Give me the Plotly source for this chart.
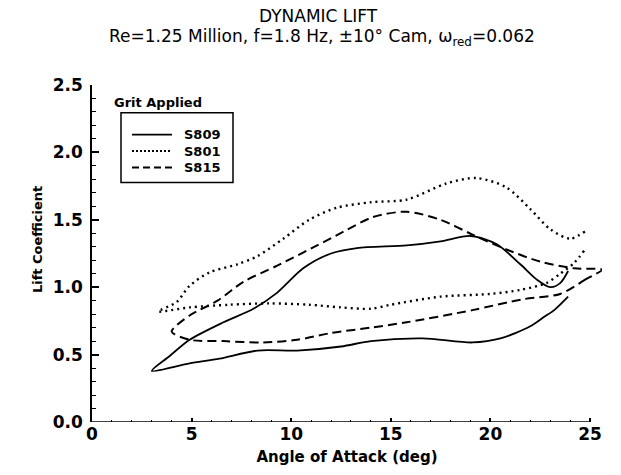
import plotly.graph_objects as go

# ---- data ----
# S809 (solid): lower branch then upper branch, both start at the leftmost point
s809_lower_x = [3.0, 4.9, 6.4, 8.3, 10.3, 12.5, 14.0, 16.6, 19.1, 20.5, 22.0, 22.7, 23.2, 23.9]
s809_lower_y = [0.38, 0.435, 0.47, 0.53, 0.53, 0.56, 0.60, 0.62, 0.59, 0.62, 0.71, 0.78, 0.83, 0.93]
s809_upper_x = [3.0, 3.9, 4.9, 6.6, 8.1, 9.3, 10.6, 12.0, 13.3, 15.8, 17.5, 19.0, 20.3, 21.5, 22.3, 23.0, 23.5, 23.9]
s809_upper_y = [0.38, 0.49, 0.61, 0.74, 0.84, 0.96, 1.14, 1.25, 1.29, 1.31, 1.34, 1.38, 1.32, 1.17, 1.06, 1.00, 1.03, 1.12]

# S801 (dotted)
s801_lower_x = [3.33, 4.9, 6.9, 8.9, 10.9, 12.5, 14.0, 15.0, 17.5, 20.0, 21.5, 22.8, 23.5, 24.2, 24.7]
s801_lower_y = [0.82, 0.85, 0.87, 0.88, 0.87, 0.85, 0.84, 0.87, 0.93, 0.95, 0.98, 1.03, 1.10, 1.18, 1.27]
s801_upper_x = [3.33, 4.25, 4.9, 5.9, 7.3, 8.3, 9.6, 10.9, 12.3, 14.0, 15.8, 17.8, 19.3, 20.8, 22.0, 23.0, 24.0, 24.8]
s801_upper_y = [0.82, 0.89, 1.01, 1.11, 1.17, 1.23, 1.36, 1.50, 1.59, 1.63, 1.65, 1.77, 1.81, 1.74, 1.58, 1.43, 1.36, 1.42]

# S815 (dashed)
s815_lower_x = [4.0, 4.9, 6.6, 8.6, 10.3, 12.0, 14.0, 15.8, 19.1, 21.6, 23.5, 24.8, 25.6]
s815_lower_y = [0.67, 0.61, 0.60, 0.59, 0.61, 0.66, 0.70, 0.74, 0.83, 0.91, 0.95, 1.06, 1.13]
s815_upper_x = [4.0, 4.9, 6.3, 7.6, 9.3, 11.3, 12.6, 14.1, 15.8, 17.5, 19.1, 20.8, 22.5, 24.2, 25.6]
s815_upper_y = [0.67, 0.79, 0.90, 1.04, 1.16, 1.31, 1.41, 1.52, 1.56, 1.50, 1.39, 1.28, 1.19, 1.14, 1.13]

series_names = ["S809", "S801", "S815"]
x_ticks = [0, 5, 10, 15, 20, 25]
y_ticks = [0.0, 0.5, 1.0, 1.5, 2.0, 2.5]

FONT = "DejaVu Sans"

# plot area in pixels (for placing the text / legend frame)
L, R, T, B = 92, 602, 85, 424
W, H = R - L, B - T
def px(x):  # pixel -> paper x
    return (x - L) / W
def py(y):  # pixel -> paper y
    return (B - y) / H

def loop(lx, ly, ux, uy):
    return list(reversed(lx)) + ux[1:], list(reversed(ly)) + uy[1:]

styles = [("solid", 1.8), ("2px,4px", 2.4), ("9px,5px", 2.0)]
legend_dash = ["solid", "2px,2px", "7px,4px"]
data = [
    loop(s809_lower_x, s809_lower_y, s809_upper_x, s809_upper_y),
    loop(s801_lower_x, s801_lower_y, s801_upper_x, s801_upper_y),
    loop(s815_lower_x, s815_lower_y, s815_upper_x, s815_upper_y),
]

fig = go.Figure()
for name, (xs, ys), (dash, w) in zip(series_names, data, styles):
    fig.add_trace(go.Scatter(
        x=xs, y=ys, name=name, mode="lines", showlegend=False,
        line=dict(color="black", width=w, dash=dash, shape="spline", smoothing=0.8),
    ))

fig.update_layout(
    width=621, height=475,
    margin=dict(l=L, r=621 - R, t=T, b=475 - B),
    paper_bgcolor="white", plot_bgcolor="white",
    font=dict(family=FONT, color="black"),
    showlegend=False,
)

fig.update_xaxes(
    range=[0, 25.6], tickvals=x_ticks, ticktext=[str(v) for v in x_ticks],
    showline=False, showgrid=False, zeroline=False,
    ticks="inside", ticklen=4, tickwidth=1.5, tickcolor="black",
    minor=dict(dtick=1, ticks="inside", ticklen=2, tickwidth=1, tickcolor="black"),
    tickfont=dict(family=FONT, size=17, color="black", weight="bold"),
    title=dict(text="Angle of Attack (deg)", standoff=8,
               font=dict(family=FONT, size=15, color="black", weight="bold")),
)
fig.update_yaxes(
    range=[0, 2.5], tickvals=y_ticks, ticktext=[f"{v:.1f}" for v in y_ticks],
    showline=True, linecolor="black", linewidth=1.5, mirror=False,
    showgrid=False, zeroline=False,
    ticks="inside", ticklen=7, tickwidth=1.5, tickcolor="black",
    minor=dict(dtick=0.1, ticks="inside", ticklen=4, tickwidth=1, tickcolor="black"),
    tickfont=dict(family=FONT, size=17, color="black", weight="bold"),
    ticklabelstandoff=4,
)

# y axis title
fig.add_annotation(text="Lift Coefficient", xref="paper", yref="paper",
                   x=px(37), y=py(241), textangle=-90, showarrow=False,
                   xanchor="center", yanchor="middle",
                   font=dict(family=FONT, size=13, color="black", weight="bold"))

# titles
fig.add_annotation(text="DYNAMIC LIFT", xref="paper", yref="paper",
                   x=px(318), y=py(16), showarrow=False,
                   xanchor="center", yanchor="middle",
                   font=dict(family=FONT, size=17, color="black"))
fig.add_annotation(text="Re=1.25 Million, f=1.8 Hz, ±10° Cam, ω<sub>red</sub>=0.062",
                   xref="paper", yref="paper",
                   x=px(322), y=py(37), showarrow=False,
                   xanchor="center", yanchor="middle",
                   font=dict(family=FONT, size=17, color="black"))

# x axis line only up to 25 (the curves run slightly past it)
fig.add_shape(type="line", xref="x", yref="y", x0=0, x1=25, y0=0, y1=0,
              line=dict(color="black", width=1.5))

# legend: frame, caption, keys and names
fig.add_shape(type="rect", xref="paper", yref="paper",
              x0=px(121), x1=px(233), y0=py(183), y1=py(113),
              line=dict(color="black", width=1.5), fillcolor="rgba(0,0,0,0)")
fig.add_annotation(text="Grit Applied", xref="paper", yref="paper",
                   x=px(158), y=py(103), showarrow=False,
                   xanchor="center", yanchor="middle",
                   font=dict(family=FONT, size=13, color="black", weight="bold"))
for i, (name, (dash, w), ldash) in enumerate(zip(series_names, styles, legend_dash)):
    yy = 135 + i * 16.5
    fig.add_shape(type="line", xref="paper", yref="paper",
                  x0=px(132), x1=px(172), y0=py(yy), y1=py(yy),
                  line=dict(color="black", width=min(w, 2.0), dash=ldash))
    fig.add_annotation(text=name, xref="paper", yref="paper",
                       x=px(182), y=py(yy), showarrow=False,
                       xanchor="left", yanchor="middle",
                       font=dict(family=FONT, size=13, color="black", weight="bold"))

fig.write_html("out.html")
